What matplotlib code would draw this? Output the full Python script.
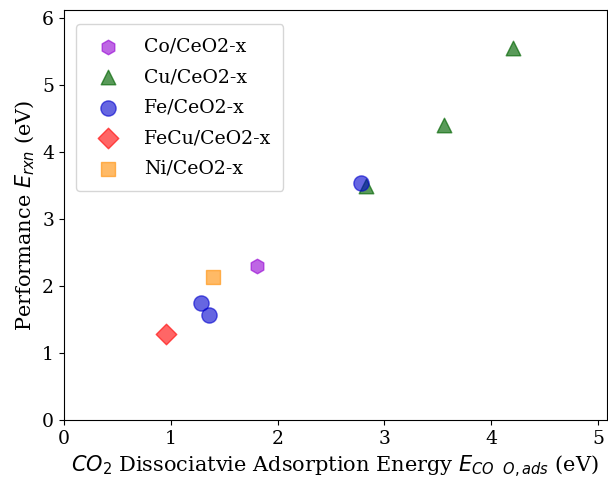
import matplotlib.pyplot as plt

# data
co_x = [1.81]
co_y = [2.30]
cu_x = [2.83, 3.56, 4.20]
cu_y = [3.50, 4.41, 5.55]
fe_x = [2.78, 1.28, 1.36]
fe_y = [3.54, 1.75, 1.57]
fecu_x = [0.955]
fecu_y = [1.28]
ni_x = [1.40]
ni_y = [2.13]

plt.rcParams['font.family'] = ['DejaVu Serif']
plt.rcParams['mathtext.fontset'] = 'dejavusans'

fig = plt.figure(figsize=(6.08, 4.79), dpi=100)
ax = fig.add_axes([0.105, 0.123, 0.893, 0.856])

ax.scatter(co_x, co_y, marker='h', s=110, color='darkviolet', alpha=0.6, label='Co/CeO2-x')
ax.scatter(cu_x, cu_y, marker='^', s=110, color='darkgreen', alpha=0.65, label='Cu/CeO2-x')
ax.scatter(fe_x, fe_y, marker='o', s=120, color='mediumblue', alpha=0.6, label='Fe/CeO2-x')
ax.scatter(fecu_x, fecu_y, marker='D', s=110, color='red', alpha=0.6, label='FeCu/CeO2-x')
ax.scatter(ni_x, ni_y, marker='s', s=110, color='darkorange', alpha=0.6, label='Ni/CeO2-x')

ax.set_xlim(0, 5.08)
ax.set_ylim(0, 6.12)
ax.tick_params(labelsize=13.5)
ax.set_xlabel(r'$CO_2$ Dissociatvie Adsorption Energy $E_{CO\ \ O,ads}$ (eV)', fontsize=15)
ax.set_ylabel(r'Performance $E_{rxn}$ (eV)', fontsize=15)
ax.legend(loc='upper left', fontsize=13.6, borderpad=0.7, labelspacing=0.66,
          handletextpad=0.9, bbox_to_anchor=(0.005, 0.988))

plt.savefig('out.png')
